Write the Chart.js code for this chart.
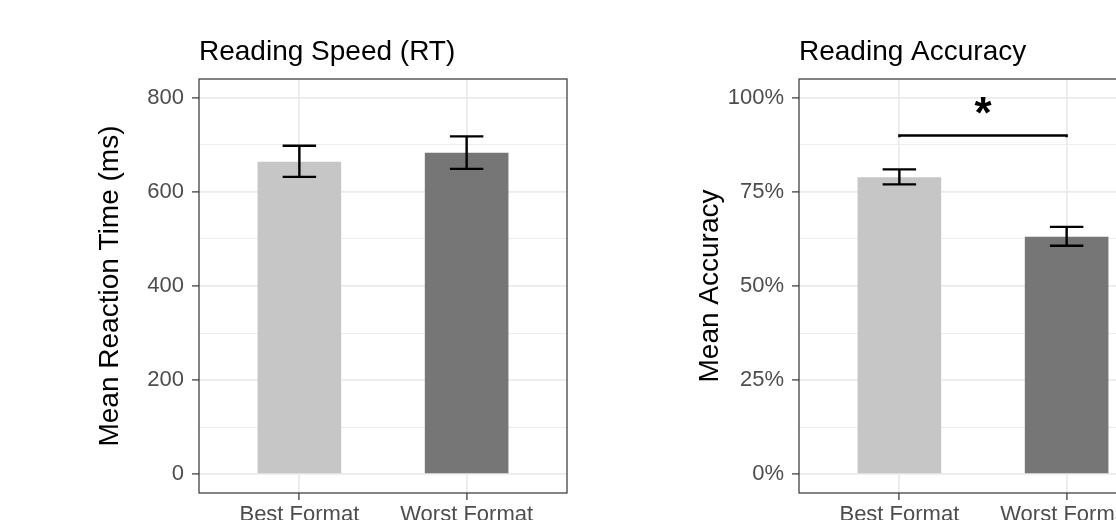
<!DOCTYPE html>
<html>
<head>
<meta charset="utf-8">
<script src="https://cdn.jsdelivr.net/npm/chart.js@4.4.1/dist/chart.umd.min.js"></script>
<style>
  html, body { margin: 0; padding: 0; background: #fff; overflow: hidden; }
  .panel { position: absolute; top: 0; width: 600px; height: 545px; }
</style>
</head>
<body>
<div class="panel" style="left:0"><canvas id="rt-chart"></canvas></div>
<div class="panel" style="left:600px"><canvas id="acc-chart"></canvas></div>
<script>
const formats = ['Best Format', 'Worst Format'];
const barColors = ['#c6c6c6', '#767676'];

// reading speed (ms)
const rtMeans = [664, 683];
const rtLower = [632, 649];
const rtUpper = [698, 718];
const rtMajor = [0, 200, 400, 600, 800];
const rtMinor = [100, 300, 500, 700];

// reading accuracy (proportion)
const accMeans = [0.789, 0.631];
const accLower = [0.770, 0.607];
const accUpper = [0.810, 0.657];
const accMajor = [0, 0.25, 0.5, 0.75, 1];
const accMinor = [0.125, 0.375, 0.625, 0.875];

// significance bracket between the two formats
const bracketX = [1, 1, 2, 2];
const bracketY = [0.895, 0.9, 0.9, 0.895];
const starText = '*';
const starX = 1.5;
const starY = 0.92;

Chart.defaults.font.family = '"Liberation Sans", Arial, sans-serif';
Chart.defaults.animation = false;

// error bars, panel border and text label
const extras = {
	id: 'extras',
	afterDatasetsDraw(chart, args, opts) {
		const {ctx, scales: {x, y}, chartArea: a} = chart;
		ctx.save();
		ctx.strokeStyle = '#000';
		ctx.lineWidth = 2.4;
		const half = x.getPixelForValue(1.1) - x.getPixelForValue(1);
		opts.lower.forEach((lo, i) => {
			const px = x.getPixelForValue(i + 1);
			const top = y.getPixelForValue(opts.upper[i]);
			const bot = y.getPixelForValue(lo);
			ctx.beginPath();
			ctx.moveTo(px, top); ctx.lineTo(px, bot);
			ctx.moveTo(px - half, top); ctx.lineTo(px + half, top);
			ctx.moveTo(px - half, bot); ctx.lineTo(px + half, bot);
			ctx.stroke();
		});
		ctx.strokeStyle = '#333';
		ctx.lineWidth = 1.2;
		ctx.strokeRect(a.left, a.top, a.right - a.left, a.bottom - a.top);
		if (opts.text) {
			ctx.fillStyle = '#000';
			ctx.font = 'bold 44px "Liberation Sans", Arial, sans-serif';
			ctx.textAlign = 'center';
			ctx.textBaseline = 'alphabetic';
			ctx.fillText(opts.text.label, x.getPixelForValue(opts.text.x), y.getPixelForValue(opts.text.y));
		}
		ctx.restore();
	}
};

let makeChart = function (id, cfg) {
	const ticks = cfg.major.concat(cfg.minor).sort((p, q) => p - q);
	const isMajor = v => cfg.major.some(m => Math.abs(m - v) < 1e-9);
	const datasets = [{
		type: 'bar',
		data: cfg.means.map((v, i) => ({x: i + 1, y: v})),
		backgroundColor: barColors,
		borderWidth: 0,
		barPercentage: 0.5,
		categoryPercentage: 1,
		order: 2
	}];
	if (cfg.bracket) {
		datasets.push({
			type: 'line',
			data: bracketX.map((v, i) => ({x: v, y: bracketY[i]})),
			borderColor: '#000',
			borderWidth: 2.4,
			pointRadius: 0,
			fill: false,
			order: 1
		});
	}
	return new Chart(document.getElementById(id), {
		type: 'bar',
		data: {datasets: datasets},
		plugins: [extras],
		options: {
			responsive: true,
			maintainAspectRatio: false,
			layout: {padding: {right: 33}},
			plugins: {
				legend: {display: false},
				tooltip: {enabled: false},
				title: {
					display: true,
					text: cfg.title,
					align: 'start',
					fullSize: false,
					color: '#000',
					font: {size: 28, weight: 'normal'},
					padding: {top: 35, bottom: 10.4}
				},
				extras: {lower: cfg.lower, upper: cfg.upper, text: cfg.text}
			},
			scales: {
				x: {
					type: 'linear',
					min: 0.4,
					max: 2.6,
					offset: false,
					afterBuildTicks: s => { s.ticks = formats.map((f, i) => ({value: i + 1})); },
					afterFit: s => { s.height = 52; },
					ticks: {
						callback: v => formats[v - 1],
						color: '#4d4d4d',
						font: {size: 22},
						padding: 2,
						maxRotation: 0,
						autoSkip: false
					},
					grid: {offset: false, color: '#ebebeb', lineWidth: 1.8, tickColor: '#333', tickWidth: 1.2, tickLength: 7},
					border: {display: false}
				},
				y: {
					min: cfg.min,
					max: cfg.max,
					afterBuildTicks: s => { s.ticks = ticks.map(v => ({value: v})); },
					afterFit: s => { s.width = 199; },
					ticks: {
						callback: v => isMajor(v) ? cfg.fmt(v) : '',
						color: '#4d4d4d',
						font: {size: 22},
						padding: 8,
						autoSkip: false
					},
					grid: {
						color: '#ebebeb',
						lineWidth: c => isMajor(c.tick.value) ? 1.8 : 0.9,
						tickColor: c => isMajor(c.tick.value) ? '#333' : 'rgba(0,0,0,0)',
						tickWidth: 1.2,
						tickLength: 7
					},
					border: {display: false},
					title: {
						display: true,
						text: cfg.yTitle,
						color: '#000',
						font: {size: 28},
						padding: {top: 93, bottom: 0}
					}
				}
			}
		}
	});
}

const rtChart = makeChart('rt-chart', {
	title: 'Reading Speed (RT)',
	yTitle: 'Mean Reaction Time (ms)',
	means: rtMeans, lower: rtLower, upper: rtUpper,
	major: rtMajor, minor: rtMinor,
	min: -40, max: 840,
	fmt: v => String(v)
});

const accChart = makeChart('acc-chart', {
	title: 'Reading Accuracy',
	yTitle: 'Mean Accuracy',
	means: accMeans, lower: accLower, upper: accUpper,
	major: accMajor, minor: accMinor,
	min: -0.05, max: 1.05,
	fmt: v => Math.round(v * 100) + '%',
	bracket: true,
	text: {label: starText, x: starX, y: starY}
});
</script>
</body>
</html>
